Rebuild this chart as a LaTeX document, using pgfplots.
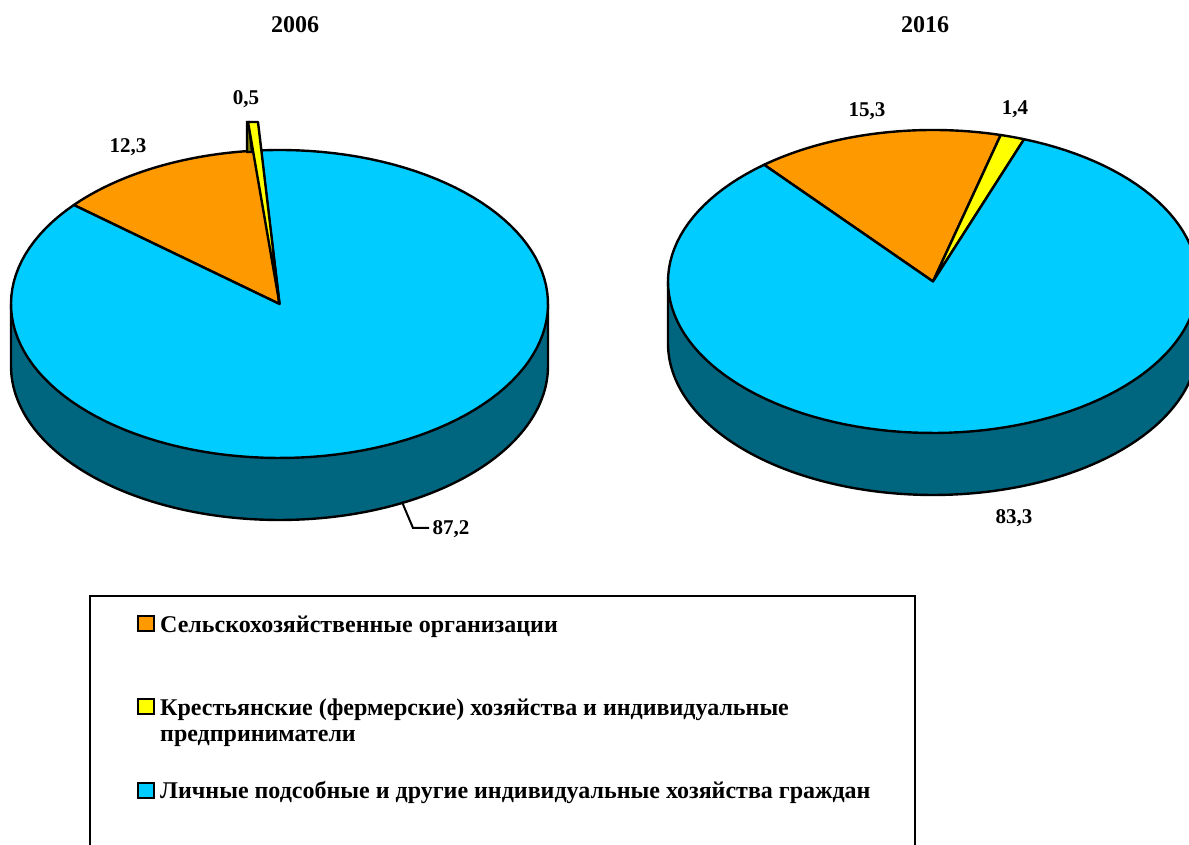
\documentclass[border=0pt]{standalone}
\usepackage{pgfplots}
\pgfplotsset{compat=1.18}
\usepackage{fontspec}
\setmainfont{Liberation Serif}
\definecolor{cOr}{RGB}{255,153,0}
\definecolor{cYe}{RGB}{255,255,0}
\definecolor{cYd}{RGB}{128,128,0}
\definecolor{cBl}{RGB}{0,204,255}
\definecolor{cSide}{RGB}{0,102,128}
\tikzset{lab/.style={font=\fontsize{21}{23}\bfseries\selectfont,inner sep=0pt,text=black},
  leg/.style={font=\fontsize{24}{26}\bfseries\selectfont,inner sep=0pt,text=black,anchor=west}}
\newcommand{\slice}[7]{% cx cy rx ry from to colour
  \addplot[draw=black,line width=2.4pt,fill=#7,samples=120,domain=#5:#6,line join=round]
    ({#1+#3*cos(x)},{#2+#4*sin(x)}) -- (axis cs:#1,#2) -- cycle;}
\newcommand{\rim}[5]{% cx cy rx ry depth
  \addplot[draw=black,line width=2.4pt,fill=cSide,samples=120,domain=180:360,line join=round]
    ({#1+#3*cos(x)},{#2-#5+#4*sin(x)}) -- (axis cs:#1+#3,#2) -- (axis cs:#1-#3,#2) -- cycle;}
\begin{document}
\begin{tikzpicture}
\begin{axis}[
  scale only axis,width=1189pt,height=845pt,
  xmin=0,xmax=1189,ymin=0,ymax=845,
  hide axis,clip=true]
% 2006
\rim{279.5}{541}{268.5}{154}{62}
\slice{279.5}{541}{268.5}{154}{94}{140}{cOr}
\slice{279.5}{541}{268.5}{154}{140}{454}{cBl}
\addplot[draw=black,line width=2.4pt,fill=cYd] coordinates {(247,723)(249,723)(252,693)(247,693)} -- cycle;
\addplot[draw=black,line width=2.4pt,fill=cYe,line join=round] coordinates {(258,723)(248,723)(279.5,541)} -- cycle;
% 2016
\rim{933}{563.5}{265}{151.5}{62}
\slice{933}{563.5}{265}{151.5}{75.2}{129.6}{cOr}
\slice{933}{563.5}{265}{151.5}{69.9}{75.2}{cYe}
\slice{933}{563.5}{265}{151.5}{129.6}{429.9}{cBl}
% leader
\addplot[black,line width=2pt] coordinates {(402,343)(413,317)(429,317)};
% legend box
\addplot[black,line width=2.2pt] coordinates {(90,0)(90,249)(915,249)(915,0)};
\addplot[draw=black,line width=2pt,fill=cOr] coordinates {(137.5,229)(153.5,229)(153.5,214)(137.5,214)} -- cycle;
\addplot[draw=black,line width=2pt,fill=cYe] coordinates {(137.5,146)(153.5,146)(153.5,131)(137.5,131)} -- cycle;
\addplot[draw=black,line width=2pt,fill=cBl] coordinates {(137.5,62)(153.5,62)(153.5,47)(137.5,47)} -- cycle;
\node[leg] at (axis cs:160,218) {Сельскохозяйственные организации};
\node[leg] at (axis cs:160,135) {Крестьянские (фермерские) хозяйства и индивидуальные};
\node[leg] at (axis cs:160,107) {предприниматели};
\node[leg] at (axis cs:160,52) {Личные подсобные и другие индивидуальные хозяйства граждан};
% labels
\node[lab] at (axis cs:295,820) {\fontsize{24}{26}\bfseries\selectfont 2006};
\node[lab] at (axis cs:925,820) {\fontsize{24}{26}\bfseries\selectfont 2016};
\node[lab] at (axis cs:246,746) {0,5};
\node[lab] at (axis cs:128,698) {12,3};
\node[lab] at (axis cs:451,316) {87,2};
\node[lab] at (axis cs:867,734) {15,3};
\node[lab] at (axis cs:1015,736) {1,4};
\node[lab] at (axis cs:1014,327) {83,3};
\end{axis}
\pgfresetboundingbox
\path[use as bounding box] (0,0) rectangle (1189pt,845pt);
\end{tikzpicture}
\end{document}
